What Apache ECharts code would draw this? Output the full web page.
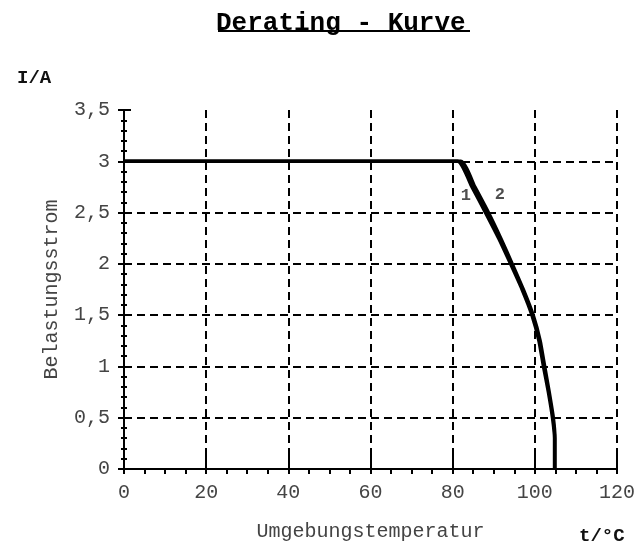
<!DOCTYPE html>
<html>
<head>
<meta charset="utf-8">
<script src="https://cdn.jsdelivr.net/npm/echarts@6/dist/echarts.min.js"></script>
<style>
  html, body { margin: 0; padding: 0; background: #fff; }
  #chart { width: 638px; height: 547px; }
</style>
</head>
<body>
<div id="chart"></div>
<script>
// Derating curves: load current I (A) over ambient temperature t (°C)
const curve1 = [
  [0, 3], [81.2, 3], [84.7, 2.75], [88, 2.5], [91.2, 2.25], [94.1, 2],
  [96.9, 1.75], [99.3, 1.5], [101, 1.25], [102.1, 1.0], [103.3, 0.75], [104.3, 0.5],
  [104.8, 0.3], [104.8, 0]
];
const curve2 = [
  [0, 3], [82, 3], [85.4, 2.75], [88.7, 2.5], [91.7, 2.25], [94.5, 2],
  [97.2, 1.75], [99.6, 1.5], [101.3, 1.25], [102.4, 1.0], [103.5, 0.75], [104.5, 0.5],
  [104.9, 0.3], [104.9, 0]
];
// curve numbers placed beside the curves
const curveTags = [
  { name: '1', value: [83.2, 2.66] },
  { name: '2', value: [91.5, 2.67] }
];
const xExtraTicks = [105];
const xMin = 0, xMax = 120, xStep = 20;
const yMin = 0, yMax = 3.5, yStep = 0.5;

const mono = '"Liberation Mono", "DejaVu Sans Mono", monospace';
const labelColor = '#444';
const dashed = { color: '#000', width: 2, type: [8, 5] };

const chart = echarts.init(document.getElementById('chart'));

const lineSeries = (name, data) => ({
  name, type: 'line', data,
  xAxisIndex: 0, yAxisIndex: 0,
  showSymbol: false, symbol: 'none',
  smooth: 0.15,
  lineStyle: { color: '#000', width: 3.5 },
  z: 5, silent: true
});

chart.setOption({
  animation: false,
  backgroundColor: '#fff',
  grid: { left: 124, right: 21, top: 110, bottom: 78 },
  xAxis: [
    {
      type: 'value', position: 'bottom', min: xMin, max: xMax, interval: xStep,
      name: 'Umgebungstemperatur', nameLocation: 'middle', nameGap: 53,
      nameTextStyle: { fontFamily: mono, fontSize: 20, color: labelColor },
      axisLine: { show: true, onZero: false, lineStyle: { color: '#000', width: 2 } },
      axisTick: { show: true, inside: true, length: 13, lineStyle: { color: '#000', width: 2 } },
      axisLabel: { margin: 14, fontFamily: mono, fontSize: 20, color: labelColor },
      splitLine: { show: true, showMinLine: false, lineStyle: dashed }
    },
    {
      type: 'value', position: 'bottom', min: xMin, max: xMax, interval: xStep,
      axisLine: { show: false, onZero: false },
      axisTick: { show: true, inside: false, length: 5, lineStyle: { color: '#000', width: 2 } },
      minorTick: { show: true, splitNumber: 4, length: 5, lineStyle: { color: '#000', width: 2 } },
      axisLabel: { show: false },
      splitLine: { show: false }
    },
    {
      type: 'value', position: 'bottom', min: xMin, max: xMax,
      axisLine: { show: false, onZero: false },
      axisTick: { show: true, inside: false, length: 5, customValues: xExtraTicks,
                  lineStyle: { color: '#000', width: 2 } },
      axisLabel: { show: false },
      splitLine: { show: false }
    }
  ],
  yAxis: [
    {
      type: 'value', min: yMin, max: yMax, interval: yStep,
      name: 'Belastungsstrom', nameLocation: 'middle', nameGap: 62, nameRotate: 90,
      nameTextStyle: { fontFamily: mono, fontSize: 20, color: labelColor },
      axisLine: { show: true, onZero: false, lineStyle: { color: '#000', width: 2 } },
      axisTick: { show: true, inside: false, length: 6, lineStyle: { color: '#000', width: 2 } },
      minorTick: { show: true, splitNumber: 5, length: 3, lineStyle: { color: '#000', width: 2 } },
      axisLabel: {
        margin: 14, fontFamily: mono, fontSize: 20, color: labelColor,
        formatter: v => String(v).replace('.', ',')
      },
      splitLine: { show: true, showMinLine: false, showMaxLine: false, lineStyle: dashed }
    },
    {
      type: 'value', position: 'left', min: yMin, max: yMax, interval: yStep,
      axisLine: { show: false, onZero: false },
      axisTick: { show: true, inside: true, length: 7, lineStyle: { color: '#000', width: 2 } },
      minorTick: { show: true, splitNumber: 5, length: 3, lineStyle: { color: '#000', width: 2 } },
      axisLabel: { show: false },
      splitLine: { show: false }
    }
  ],
  series: [
    lineSeries('1', curve1),
    lineSeries('2', curve2),
    {
      type: 'scatter', data: curveTags, symbolSize: 0,
      xAxisIndex: 0, yAxisIndex: 0, silent: true,
      label: {
        show: true, position: 'inside', formatter: p => p.name,
        fontFamily: mono, fontWeight: 'bold', fontSize: 17, color: '#222'
      }
    }
  ],
  graphic: [
    {
      type: 'text', left: 216, top: 10,
      style: { text: 'Derating - Kurve', font: 'bold 26px ' + mono, fill: '#000' }
    },
    {
      type: 'line', silent: true,
      shape: { x1: 218, y1: 31, x2: 470, y2: 31 },
      style: { stroke: '#000', lineWidth: 2 }
    },
    {
      type: 'text', left: 17, top: 69,
      style: { text: 'I/A', font: 'bold 19px ' + mono, fill: '#111' }
    },
    {
      type: 'text', left: 579, top: 527,
      style: { text: 't/°C', font: 'bold 19px ' + mono, fill: '#111' }
    }
  ]
});
</script>
</body>
</html>
